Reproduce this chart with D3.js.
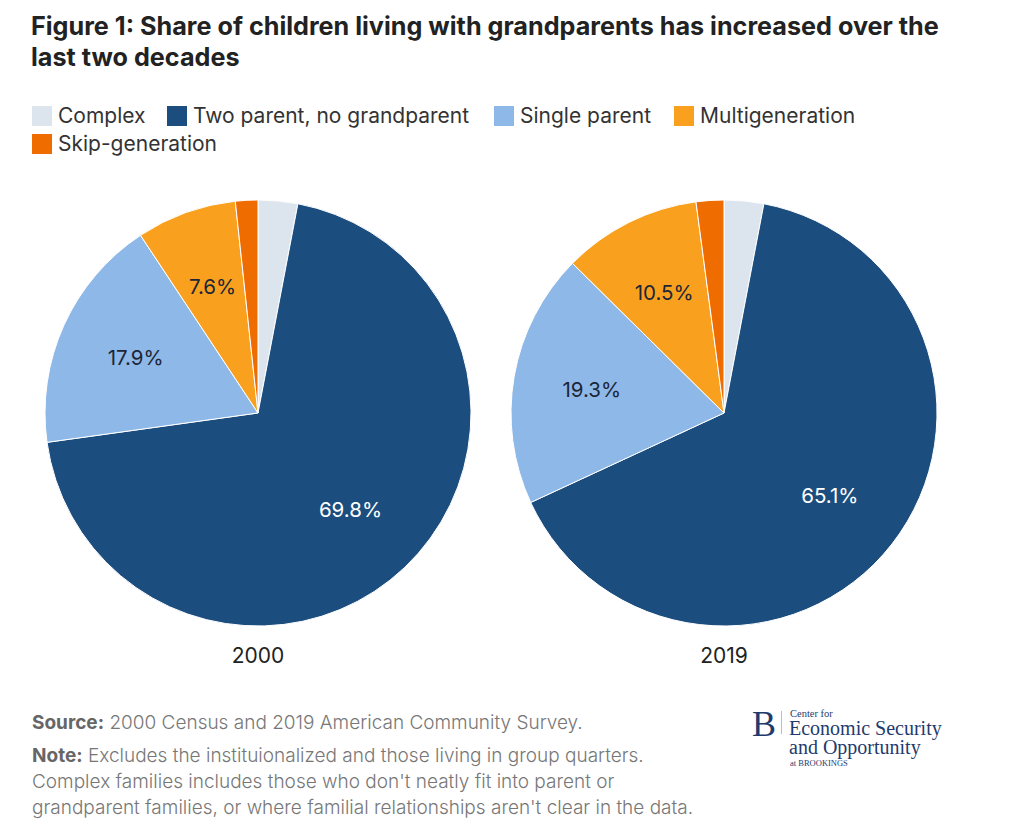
<!DOCTYPE html>
<html>
<head>
<meta charset="utf-8">
<script src="https://cdn.jsdelivr.net/npm/d3@7"></script>
<style>
  body { margin: 0; background: #fff; }
  text { font-family: Inter, "Noto Sans", sans-serif; }
</style>
</head>
<body>
<script>
const categories = ["Complex", "Two parent, no grandparent", "Single parent", "Multigeneration", "Skip-generation"];
const years = ["2000", "2019"];
const values2000 = [3.0, 69.8, 17.9, 7.6, 1.7];
const values2019 = [3.0, 65.1, 19.3, 10.5, 2.1];
const labelled = ["Two parent, no grandparent", "Single parent", "Multigeneration"];
const colors = ["#dce5ee", "#1b4d7e", "#8db8e7", "#f9a11f", "#ef6c00"];

const width = 1024, height = 828;
const svg = d3.select("body").append("svg")
  .attr("width", width)
  .attr("height", height);

// title
svg.append("text")
  .attr("font-size", 25.2).attr("font-weight", 700).attr("fill", "#222")
  .selectAll("tspan")
  .data(["Figure 1: Share of children living with grandparents has increased over the", "last two decades"])
  .join("tspan")
  .attr("x", 31)
  .attr("y", (d, i) => 35 + i * 31)
  .text(d => d);

// legend
const legendPos = [[32, 106], [167, 106], [494, 106], [674, 106], [32, 134]];
const color = d3.scaleOrdinal().domain(categories).range(colors);
const legend = svg.append("g")
  .selectAll("g")
  .data(categories)
  .join("g")
  .attr("transform", (d, i) => `translate(${legendPos[i][0]},${legendPos[i][1]})`);
legend.append("rect")
  .attr("width", 20).attr("height", 20)
  .attr("fill", d => color(d));
legend.append("text")
  .attr("x", 26).attr("y", 17)
  .attr("font-size", 21).attr("fill", "#333")
  .text(d => d);

// pies
const radius = 213;
const centres = [[258, 413], [724, 413]];
const pie = d3.pie().sort(null).value(d => d.value);
const arc = d3.arc().innerRadius(0).outerRadius(radius);
const labelArc = d3.arc().innerRadius(radius * 0.63).outerRadius(radius * 0.63);

[values2000, values2019].forEach((vals, k) => {
  const data = categories.map((c, i) => ({ name: c, value: vals[i] }));
  const g = svg.append("g")
    .attr("transform", `translate(${centres[k][0]},${centres[k][1]})`);

  g.selectAll("path")
    .data(pie(data))
    .join("path")
    .attr("d", arc)
    .attr("fill", d => color(d.data.name))
    .attr("stroke", "#fff")
    .attr("stroke-width", 1);

  g.selectAll("text.val")
    .data(pie(data).filter(d => labelled.includes(d.data.name)))
    .join("text")
    .attr("class", "val")
    .attr("transform", d => `translate(${labelArc.centroid(d)})`)
    .attr("text-anchor", "middle")
    .attr("dy", "0.35em")
    .attr("font-size", 20.5)
    .attr("fill", d => d.data.name === "Two parent, no grandparent" ? "#fff" : "#1d2636")
    .text(d => d.data.value.toFixed(1) + "%");

  g.append("text")
    .attr("y", 250)
    .attr("text-anchor", "middle")
    .attr("font-size", 21).attr("fill", "#222")
    .text(years[k]);
});

// source and note
const foot = svg.append("g")
  .style("font-family", "Roboto, sans-serif")
  .attr("font-size", 19).attr("font-weight", 300).attr("fill", "#777");
const src = foot.append("text").attr("x", 32).attr("y", 729);
src.append("tspan").attr("font-weight", 700).attr("fill", "#666").text("Source:");
src.append("tspan").text(" 2000 Census and 2019 American Community Survey.");
const note = foot.append("text").attr("x", 32).attr("y", 762);
note.append("tspan").attr("font-weight", 700).attr("fill", "#666").text("Note:");
note.append("tspan").text(" Excludes the instituionalized and those living in group quarters.");
foot.append("text").attr("x", 32).attr("y", 788)
  .text("Complex families includes those who don't neatly fit into parent or");
foot.append("text").attr("x", 32).attr("y", 814)
  .text("grandparent families, or where familial relationships aren't clear in the data.");

// logo
const serif = "'Liberation Serif', serif";
const logo = svg.append("g").attr("fill", "#1f3b6e").style("font-family", serif);
logo.append("text").attr("x", 752).attr("y", 736)
  .style("font-family", serif).attr("font-size", 36).text("B");
logo.append("line").attr("x1", 781.5).attr("x2", 781.5).attr("y1", 711).attr("y2", 734)
  .attr("stroke", "#b8bfcc").attr("stroke-width", 1);
logo.append("text").attr("x", 790).attr("y", 717)
  .style("font-family", serif).attr("font-size", 10.5).text("Center for");
logo.append("text").attr("x", 789).attr("y", 735)
  .style("font-family", serif).attr("font-size", 20).text("Economic Security");
logo.append("text").attr("x", 789).attr("y", 754)
  .style("font-family", serif).attr("font-size", 20).text("and Opportunity");
logo.append("text").attr("x", 790).attr("y", 766)
  .style("font-family", serif).attr("font-size", 8.5).text("at BROOKINGS");
</script>
</body>
</html>
